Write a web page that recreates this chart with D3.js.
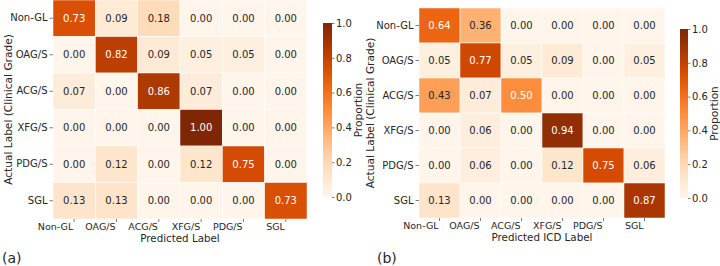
<!DOCTYPE html>
<html>
<head>
<meta charset="utf-8">
<script src="https://cdn.jsdelivr.net/npm/d3@7"></script>
<style>
  body { margin: 0; background: #fff; }
  svg { display: block; font-family: "DejaVu Sans", sans-serif; }
</style>
</head>
<body>
<svg id="chart" width="720" height="266"></svg>
<script>
// CLASS LABELS (same for both panels)
var classes = ["Non-GL", "OAG/S", "ACG/S", "XFG/S", "PDG/S", "SGL"];
var colorTicks = [0, 0.2, 0.4, 0.6, 0.8, 1.0];

// (a) clinical grade vs predicted label
var matrixA = [
  [0.73, 0.09, 0.18, 0.00, 0.00, 0.00],
  [0.00, 0.82, 0.09, 0.05, 0.05, 0.00],
  [0.07, 0.00, 0.86, 0.07, 0.00, 0.00],
  [0.00, 0.00, 0.00, 1.00, 0.00, 0.00],
  [0.00, 0.12, 0.00, 0.12, 0.75, 0.00],
  [0.13, 0.13, 0.00, 0.00, 0.00, 0.73]
];

// (b) clinical grade vs predicted ICD label
var matrixB = [
  [0.64, 0.36, 0.00, 0.00, 0.00, 0.00],
  [0.05, 0.77, 0.05, 0.09, 0.00, 0.05],
  [0.43, 0.07, 0.50, 0.00, 0.00, 0.00],
  [0.00, 0.06, 0.00, 0.94, 0.00, 0.00],
  [0.00, 0.06, 0.00, 0.12, 0.75, 0.06],
  [0.13, 0.00, 0.00, 0.00, 0.00, 0.87]
];

var svg = d3.select("#chart");
var textColor = "#262626";
var color = d3.scaleSequential(d3.interpolateOranges).domain([0, 1]);

// gradient for colorbars
var grad = svg.append("defs").append("linearGradient")
  .attr("id", "orgrad").attr("x1", 0).attr("y1", 1).attr("x2", 0).attr("y2", 0);
d3.range(0, 1.0001, 0.05).forEach(function (t) {
  grad.append("stop").attr("offset", t).attr("stop-color", color(t));
});

drawPanel(matrixA, {
  x0: 53, x1: 307, y0: 0, y1: 219,
  cbX: 323, cbW: 9, cbY0: 23, cbY1: 197,
  yLabelX: 8, xLabelX: 180,
  xTitle: "Predicted Label", tag: "(a)", tagX: 2
});

drawPanel(matrixB, {
  x0: 419, x1: 665, y0: 8, y1: 218,
  cbX: 680, cbW: 8, cbY0: 29, cbY1: 198,
  yLabelX: 370, xLabelX: 542,
  xTitle: "Predicted ICD Label", tag: "(b)", tagX: 377
});

function drawPanel(matrix, o) {
  var x = d3.scaleBand().domain(classes).range([o.x0, o.x1]);
  var y = d3.scaleBand().domain(classes).range([o.y0, o.y1]);
  var g = svg.append("g");

  var cells = [];
  matrix.forEach(function (row, i) {
    row.forEach(function (v, j) {
      cells.push({ r: classes[i], c: classes[j], v: v });
    });
  });

  g.selectAll("rect.cell").data(cells).enter().append("rect")
    .attr("class", "cell")
    .attr("x", function (d) { return x(d.c); })
    .attr("y", function (d) { return y(d.r); })
    .attr("width", x.bandwidth())
    .attr("height", y.bandwidth())
    .attr("fill", function (d) { return color(d.v); })
    .attr("stroke", "#fff").attr("stroke-width", 0.5);

  g.selectAll("text.val").data(cells).enter().append("text")
    .attr("class", "val")
    .attr("x", function (d) { return x(d.c) + x.bandwidth() / 2; })
    .attr("y", function (d) { return y(d.r) + y.bandwidth() / 2; })
    .attr("dy", "0.35em")
    .attr("text-anchor", "middle")
    .attr("font-size", 10)
    .attr("fill", function (d) { return d.v >= 0.5 ? "#fff" : textColor; })
    .text(function (d) { return d.v.toFixed(2); });

  // y axis (row labels)
  var ya = g.append("g").attr("transform", "translate(" + o.x0 + ",0)")
    .call(d3.axisLeft(y).tickSize(3.5).tickPadding(2));
  styleAxis(ya, 10);

  // x axis (column labels, right aligned on tick)
  var xa = g.append("g").attr("transform", "translate(0," + o.y1 + ")")
    .call(d3.axisBottom(x).tickSize(3).tickPadding(1));
  styleAxis(xa, 9.5);
  xa.selectAll("text").attr("text-anchor", "end").attr("dx", "-0.1em");

  g.append("text")
    .attr("transform", "translate(" + o.yLabelX + "," + ((o.y0 + o.y1) / 2) + ") rotate(-90)")
    .attr("text-anchor", "middle").attr("dy", "0.35em")
    .attr("font-size", 10.6).attr("fill", textColor)
    .text("Actual Label (Clinical Grade)");

  g.append("text")
    .attr("x", o.xLabelX).attr("y", o.y1 + 23)
    .attr("text-anchor", "middle")
    .attr("font-size", 10.3).attr("fill", textColor)
    .text(o.xTitle);

  g.append("text")
    .attr("x", o.tagX).attr("y", 263)
    .attr("font-size", 14).attr("fill", textColor)
    .text(o.tag);

  // colorbar
  var cb = d3.scaleLinear().domain([0, 1]).range([o.cbY1, o.cbY0]);
  g.append("rect")
    .attr("x", o.cbX).attr("y", o.cbY0)
    .attr("width", o.cbW).attr("height", o.cbY1 - o.cbY0)
    .attr("fill", "url(#orgrad)");
  var ca = g.append("g").attr("transform", "translate(" + (o.cbX + o.cbW) + ",0)")
    .call(d3.axisRight(cb).tickValues(colorTicks).tickFormat(d3.format(".1f")).tickSize(2.5).tickPadding(1.5));
  styleAxis(ca, 10);

  g.append("text")
    .attr("transform", "translate(" + (o.cbX + o.cbW + 26) + "," + ((o.cbY0 + o.cbY1) / 2) + ") rotate(-90)")
    .attr("text-anchor", "middle").attr("dy", "0.35em")
    .attr("font-size", 10.6).attr("fill", textColor)
    .text("Proportion");
}

function styleAxis(a, fs) {
  a.select(".domain").remove();
  a.selectAll("line").attr("stroke", textColor).attr("stroke-width", 0.6);
  a.selectAll("text").attr("font-size", fs).attr("fill", textColor)
    .attr("font-family", "DejaVu Sans, sans-serif");
}
</script>
</body>
</html>
